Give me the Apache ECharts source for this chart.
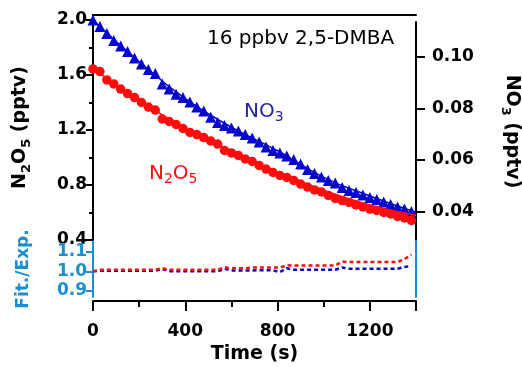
<!DOCTYPE html>
<html>
<head>
<meta charset="utf-8">
<script src="https://cdn.jsdelivr.net/npm/echarts@6/dist/echarts.min.js"></script>
<style>
  html, body { margin: 0; padding: 0; background: #fff; }
  #chart { width: 522px; height: 367px; }
</style>
</head>
<body>
<div id="chart"></div>
<script>
// time points (s)
const times = [0, 30, 60, 90, 120, 150, 180, 210, 240, 270, 300, 330, 360, 390, 420, 450, 480, 510, 540, 570,
  600, 630, 660, 690, 720, 750, 780, 810, 840, 870, 900, 930, 960, 990, 1020, 1050, 1080, 1110, 1140, 1170,
  1200, 1230, 1260, 1290, 1320, 1350, 1380];

// measured NO3 (pptv), right axis
const no3 = [0.1142, 0.1117, 0.1090, 0.1063, 0.1041, 0.1020, 0.0995, 0.0972, 0.0950, 0.0935, 0.0894, 0.0875,
  0.0855, 0.0842, 0.0825, 0.0805, 0.0790, 0.0766, 0.0745, 0.0734, 0.0724, 0.0712, 0.0699, 0.0685, 0.0670,
  0.0650, 0.0637, 0.0627, 0.0616, 0.0602, 0.0585, 0.0563, 0.0548, 0.0534, 0.0521, 0.0511, 0.0494, 0.0482,
  0.0474, 0.0465, 0.0455, 0.0447, 0.0438, 0.0428, 0.0418, 0.0410, 0.0401];

// measured N2O5 (pptv), left axis
const n2o5 = [1.644, 1.625, 1.564, 1.535, 1.498, 1.465, 1.436, 1.400, 1.367, 1.345, 1.280, 1.262, 1.240, 1.211,
  1.182, 1.167, 1.145, 1.120, 1.098, 1.051, 1.033, 1.015, 0.989, 0.971, 0.942, 0.916, 0.891, 0.869, 0.855,
  0.833, 0.807, 0.785, 0.764, 0.749, 0.724, 0.702, 0.687, 0.673, 0.655, 0.640, 0.625, 0.615, 0.600, 0.589,
  0.571, 0.560, 0.542];

// model fit curves
const fitTimes = [0, 200, 400, 600, 800, 1000, 1200, 1400];
const fitN2O5 = [1.644, 1.420, 1.210, 1.050, 0.895, 0.762, 0.655, 0.580];
const fitNO3 = [0.1142, 0.0981, 0.0838, 0.0727, 0.0636, 0.0533, 0.0461, 0.0398];

// Fit/Exp ratios
const ratioN2O5 = [1.000, 1.008, 1.008, 1.008, 1.008, 1.008, 1.008, 1.008, 1.008, 1.008, 1.016, 1.008, 1.008,
  1.008, 1.008, 1.008, 1.008, 1.008, 1.008, 1.021, 1.016, 1.016, 1.016, 1.019, 1.019, 1.019, 1.019, 1.019,
  1.031, 1.030, 1.030, 1.030, 1.030, 1.030, 1.030, 1.030, 1.050, 1.047, 1.047, 1.047, 1.047, 1.047, 1.047,
  1.047, 1.047, 1.062, 1.085];
const ratioNO3 = [1.000, 1.003, 1.003, 1.003, 1.003, 1.003, 1.003, 1.003, 1.003, 1.003, 1.013, 1.000, 1.000,
  1.000, 1.000, 1.000, 1.000, 1.000, 1.000, 1.013, 1.004, 1.004, 1.004, 1.004, 1.006, 1.006, 1.006, 0.996,
  1.016, 1.008, 1.008, 1.008, 1.008, 1.008, 1.008, 1.008, 1.020, 1.013, 1.013, 1.013, 1.013, 1.013, 1.013,
  1.013, 1.013, 1.022, 1.028];

// ticks
const xTicks = [0, 400, 800, 1200, 1400];
const xLabels = [0, 400, 800, 1200];
const xMinor = [200, 600, 1000];
const leftTicks = [0.4, 0.8, 1.2, 1.6, 2.0];
const leftMinor = [0.6, 1.0, 1.4, 1.8];
const rightTicks = [0.04, 0.06, 0.08, 0.10];
const ratioTicks = [0.9, 1.0, 1.1];

const FONT = '"DejaVu Sans", Verdana, sans-serif';
const RED = '#ff0d0d';
const BLUE = '#0505cc';
const AXBLUE = '#1b8fd1';

const pairs = (xs, ys) => xs.map((x, i) => [x, ys[i]]);
const tickLabel = (color, digits, margin, values) => ({
  customValues: values, fontSize: 17, fontWeight: 'bold', color: color, fontFamily: FONT,
  margin: margin, formatter: v => Number(v).toFixed(digits)
});
const subName = (color) => ({
  rich: {
    n: { fontSize: 19, fontWeight: 'bold', color: color, fontFamily: FONT, lineHeight: 26 },
    s: { fontSize: 13, fontWeight: 'bold', color: color, fontFamily: FONT, lineHeight: 10, verticalAlign: 'bottom' }
  }
});
const hidden = { show: false };

const chart = echarts.init(document.getElementById('chart'));

const option = {
  animation: false,
  backgroundColor: '#fff',
  grid: [
    { left: 93, top: 15, width: 323, height: 225, containLabel: false, outerBoundsMode: 'none' },
    { left: 93, top: 22, width: 323, height: 219, containLabel: false, outerBoundsMode: 'none' },
    { left: 93, top: 241, width: 323, height: 56, containLabel: false, outerBoundsMode: 'none' }
  ],
  xAxis: [
    {
      gridIndex: 0, type: 'value', min: 0, max: 1400, position: 'top',
      axisLine: { show: true, onZero: false, lineStyle: { color: '#000', width: 2 } },
      axisTick: hidden, axisLabel: hidden, splitLine: hidden
    },
    { gridIndex: 1, type: 'value', min: 0, max: 1400, show: false },
    {
      gridIndex: 2, type: 'value', min: 0, max: 1400, position: 'bottom', offset: 4,
      axisLine: { show: true, onZero: false, lineStyle: { color: '#000', width: 2 } },
      axisTick: { show: true, customValues: xTicks, length: 10, lineStyle: { color: '#000', width: 2 } },
      axisLabel: tickLabel('#000', 0, 22, xLabels),
      splitLine: hidden,
      name: 'Time (s)', nameLocation: 'middle', nameGap: 44,
      nameTextStyle: { fontSize: 19, fontWeight: 'bold', color: '#000', fontFamily: FONT }
    },
    {
      // minor ticks of the time axis
      gridIndex: 2, type: 'value', min: 0, max: 1400, position: 'bottom', offset: 4,
      axisLine: hidden, axisLabel: hidden, splitLine: hidden,
      axisTick: { show: true, customValues: xMinor, length: 6, lineStyle: { color: '#000', width: 2 } }
    }
  ],
  yAxis: [
    {
      gridIndex: 0, type: 'value', min: 0.4, max: 2.0364, position: 'left',
      axisLine: { show: true, onZero: false, lineStyle: { color: '#000', width: 2 } },
      axisTick: { show: true, customValues: leftTicks, length: 7, lineStyle: { color: '#000', width: 2 } },
      axisLabel: tickLabel('#000', 1, 6, leftTicks),
      splitLine: hidden,
      name: '{n|N}{s|2}{n|O}{s|5}{n| (pptv)}', nameLocation: 'middle', nameRotate: 90, nameGap: 60,
      nameTextStyle: subName('#000')
    },
    {
      gridIndex: 1, type: 'value', min: 0.02866, max: 0.11343, position: 'right',
      axisLine: { show: true, onZero: false, lineStyle: { color: '#000', width: 2 } },
      axisTick: { show: true, customValues: rightTicks, length: 9, lineStyle: { color: '#000', width: 2 } },
      axisLabel: tickLabel('#000', 2, 16, rightTicks),
      splitLine: hidden,
      name: '{n|NO}{s|3}{n| (pptv)}', nameLocation: 'middle', nameRotate: -90, nameGap: 83,
      nameTextStyle: subName('#000')
    },
    {
      gridIndex: 2, type: 'value', min: 0.8695, max: 1.1545, position: 'left',
      axisLine: { show: true, onZero: false, lineStyle: { color: AXBLUE, width: 2 } },
      axisTick: { show: true, customValues: ratioTicks, length: 7, lineStyle: { color: AXBLUE, width: 2 } },
      axisLabel: tickLabel(AXBLUE, 1, 6, ratioTicks),
      splitLine: hidden,
      name: 'Fit./Exp.', nameLocation: 'middle', nameRotate: 90, nameGap: 61,
      nameTextStyle: { fontSize: 17, fontWeight: 'bold', color: AXBLUE, fontFamily: FONT }
    },
    {
      gridIndex: 2, type: 'value', min: 0.8695, max: 1.1545, position: 'right',
      axisLine: { show: true, onZero: false, lineStyle: { color: AXBLUE, width: 2 } },
      axisTick: hidden, axisLabel: hidden, splitLine: hidden
    },
    {
      // minor ticks of the N2O5 axis
      gridIndex: 0, type: 'value', min: 0.4, max: 2.0364, position: 'left',
      axisLine: hidden, axisLabel: hidden, splitLine: hidden,
      axisTick: { show: true, customValues: leftMinor, length: 4, lineStyle: { color: '#000', width: 2 } }
    }
  ],
  series: [
    {
      name: 'NO3 fit', type: 'line', xAxisIndex: 1, yAxisIndex: 1, smooth: true, showSymbol: false,
      lineStyle: { color: BLUE, width: 1.5 }, data: pairs(fitTimes, fitNO3)
    },
    {
      name: 'NO3', type: 'scatter', xAxisIndex: 1, yAxisIndex: 1, clip: false,
      symbol: 'triangle', symbolSize: 11, itemStyle: { color: BLUE, opacity: 1 },
      data: pairs(times, no3)
    },
    {
      name: 'N2O5 fit', type: 'line', xAxisIndex: 0, yAxisIndex: 0, smooth: true, showSymbol: false,
      lineStyle: { color: RED, width: 1.5 }, data: pairs(fitTimes, fitN2O5)
    },
    {
      name: 'N2O5', type: 'scatter', xAxisIndex: 0, yAxisIndex: 0, clip: false,
      symbol: 'circle', symbolSize: 9.5, itemStyle: { color: RED, opacity: 1 },
      data: pairs(times, n2o5)
    },
    {
      name: 'NO3 ratio', type: 'line', xAxisIndex: 2, yAxisIndex: 2, showSymbol: false,
      lineStyle: { color: BLUE, width: 2.5, type: [4, 3] }, data: pairs(times, ratioNO3)
    },
    {
      name: 'N2O5 ratio', type: 'line', xAxisIndex: 2, yAxisIndex: 2, showSymbol: false,
      lineStyle: { color: RED, width: 2.5, type: [4, 3] }, data: pairs(times, ratioN2O5)
    }
  ],
  graphic: [
    {
      type: 'text', left: 207, top: 29,
      style: { text: '16 ppbv 2,5-DMBA', fontSize: 20, fontFamily: FONT, fill: '#000' }
    },
    {
      type: 'text', left: 244, top: 102,
      style: {
        text: '{n|NO}{s|3}',
        rich: {
          n: { fontSize: 20, fontFamily: FONT, fill: '#2323a6', lineHeight: 24 },
          s: { fontSize: 14, fontFamily: FONT, fill: '#2323a6', lineHeight: 10, verticalAlign: 'bottom' }
        }
      }
    },
    {
      type: 'text', left: 149, top: 164,
      style: {
        text: '{n|N}{s|2}{n|O}{s|5}',
        rich: {
          n: { fontSize: 20, fontFamily: FONT, fill: RED, lineHeight: 24 },
          s: { fontSize: 14, fontFamily: FONT, fill: RED, lineHeight: 10, verticalAlign: 'bottom' }
        }
      }
    }
  ]
};

chart.setOption(option);
</script>
</body>
</html>
